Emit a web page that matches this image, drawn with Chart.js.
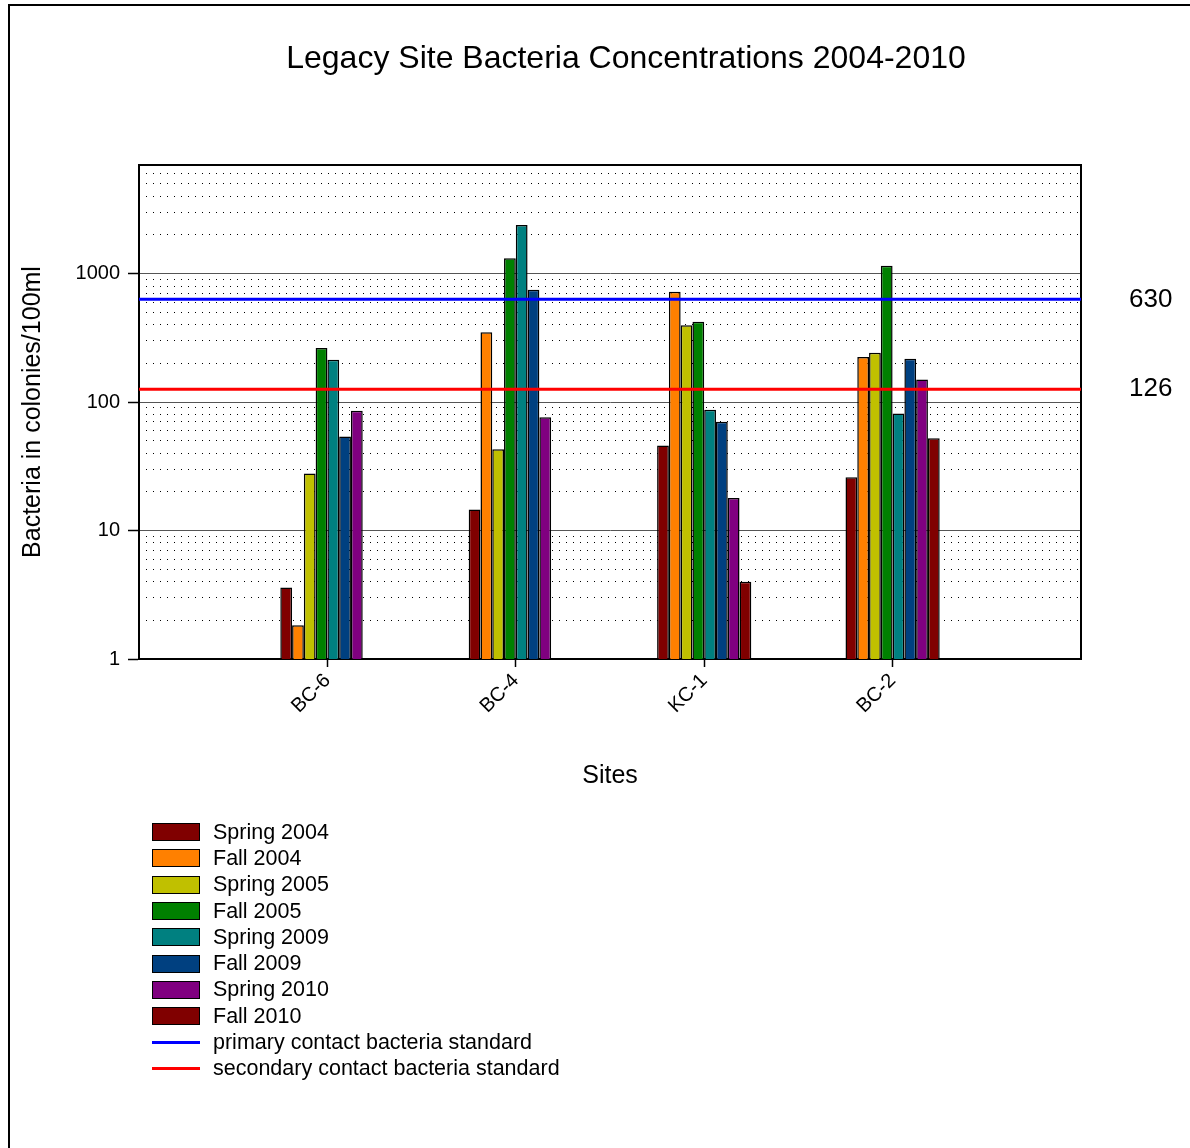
<!DOCTYPE html>
<html>
<head>
<meta charset="utf-8">
<script src="https://cdn.jsdelivr.net/npm/chart.js@4/dist/chart.umd.min.js"></script>
<style>
html,body{margin:0;padding:0;background:#fff;}
#wrap{position:relative;width:1190px;height:1148px;overflow:hidden;background:#fff;}
#frame{position:absolute;left:8px;top:4px;width:1300px;height:1300px;border:2px solid #000;box-sizing:border-box;}
#c{position:absolute;left:0;top:0;}
#title{position:absolute;left:0;width:1252px;top:36px;text-align:center;font-family:"Liberation Sans",Arial,sans-serif;font-size:32px;line-height:42px;color:#000;white-space:nowrap;}
#legend{position:absolute;left:152px;top:819px;font-family:"Liberation Sans",Arial,sans-serif;font-size:21.5px;color:#000;}
.li{display:flex;align-items:center;height:26.3px;white-space:nowrap;}
.sw{width:48px;height:18px;box-sizing:border-box;border:1px solid #000;margin-right:13px;flex:none;}
.ln{width:48px;height:3px;margin-right:13px;flex:none;}
</style>
</head>
<body>
<div id="wrap">
  <div id="frame"></div>
  <canvas id="c" width="1190" height="1148"></canvas>
  <div id="title">Legacy Site Bacteria Concentrations 2004-2010</div>
  <div id="legend"></div>
</div>
<script>
// ---- data ----
const sites = ['BC-6', 'BC-4', 'KC-1', 'BC-2'];
const seasonLabels = ['Spring 2004', 'Fall 2004', 'Spring 2005', 'Fall 2005', 'Spring 2009', 'Fall 2009', 'Spring 2010', 'Fall 2010'];
const spring2004 = [3.6, 14.6, 45.8, 26];
const fall2004 = [1.83, 350, 721, 224];
const spring2005 = [27.8, 42.9, 396, 242];
const fall2005 = [264, 1315, 421, 1148];
const spring2009 = [213, 2390, 87.3, 81.6];
const fall2009 = [54, 747, 70.4, 217];
const spring2010 = [85.7, 76, 17.9, 150];
const fall2010 = [null, null, 4, 52.2];
const primaryStandard = 630;
const secondaryStandard = 126;
const lineLabels = ['primary contact bacteria standard', 'secondary contact bacteria standard'];
const majorTicks = [1, 10, 100, 1000];
const minorTicks = [2, 3, 4, 5, 6, 7, 8, 9, 20, 30, 40, 50, 60, 70, 80, 90, 200, 300, 400, 500, 600, 700, 800, 900, 2000, 3000, 4000, 5000, 6000];
const standardTicks = [secondaryStandard, primaryStandard];
const yMin = 1, yMax = 7000;

// ---- styles ----
const seriesColors = ['#800000', '#FF8000', '#C0C000', '#008000', '#008080', '#004080', '#800080', '#800000'];
const lineColors = ['#0000FF', '#FF0000'];
const FONT = '"Liberation Sans", Arial, sans-serif';

const seriesValues = [spring2004, fall2004, spring2005, fall2005, spring2009, fall2009, spring2010, fall2010];
// empty category slot at each end so the sites sit where they do in the original
const categoryLabels = ['', ...sites, ''];
const pad = arr => [null, ...arr, null];

const barSets = seriesValues.map((vals, i) => ({
  type: 'bar',
  label: seasonLabels[i],
  data: pad(vals),
  backgroundColor: seriesColors[i],
  borderColor: '#000',
  borderWidth: 1.5,
  categoryPercentage: 0.5,
  barPercentage: 1.0,
  xAxisID: 'x',
  yAxisID: 'y'
}));
// standard lines span the whole axis (first to last category edge)
const lineSets = [primaryStandard, secondaryStandard].map((v, i) => ({
  type: 'line',
  label: lineLabels[i],
  data: categoryLabels.map(() => v),
  borderColor: lineColors[i],
  backgroundColor: lineColors[i],
  borderWidth: 3,
  pointRadius: 0,
  pointHoverRadius: 0,
  fill: false,
  xAxisID: 'x',
  yAxisID: 'y',
  order: -1
}));

const chart = new Chart(document.getElementById('c'), {
  type: 'bar',
  data: { labels: categoryLabels, datasets: [...barSets, ...lineSets] },
  options: {
    responsive: false,
    animation: false,
    devicePixelRatio: 1,
    layout: { padding: { left: 10, right: 0, top: 165, bottom: 349 } },
    plugins: { legend: { display: false }, title: { display: false }, tooltip: { enabled: false } },
    scales: {
      x: {
        type: 'category',
        position: 'bottom',
        offset: false,
        grid: {
          display: true, offset: false, drawOnChartArea: false, drawTicks: true, tickLength: 8,
          tickWidth: 1.5,
          tickColor: ctx => (ctx.index === 0 || ctx.index === categoryLabels.length - 1) ? 'rgba(0,0,0,0)' : '#000'
        },
        border: { display: true, color: '#000', width: 2 },
        ticks: { autoSkip: false, maxRotation: 45, minRotation: 45, font: { family: FONT, size: 20 }, color: '#000', padding: 2 },
        title: { display: true, text: 'Sites', font: { family: FONT, size: 25 }, color: '#000', padding: { top: 0, bottom: 8 } },
        afterFit: s => { s.height = 140; }
      },
      xTop: {
        type: 'linear',
        position: 'top',
        min: 0, max: 1,
        offset: false,
        grid: { display: true, drawOnChartArea: false, drawTicks: false },
        border: { display: true, color: '#000', width: 2 },
        ticks: { display: false },
        afterFit: s => { s.height = 0; }
      },
      y: {
        type: 'logarithmic',
        position: 'left',
        min: yMin, max: yMax,
        afterBuildTicks: s => { s.ticks = majorTicks.map(v => ({ value: v, major: true })); },
        grid: { display: true, drawOnChartArea: true, color: '#555', lineWidth: 1, drawTicks: true, tickLength: 11, tickColor: '#000', tickWidth: 1.5 },
        border: { display: true, color: '#000', width: 2 },
        ticks: { callback: v => String(v), font: { family: FONT, size: 20 }, color: '#000', padding: 8 },
        title: { display: true, text: 'Bacteria in colonies/100ml', font: { family: FONT, size: 25 }, color: '#000', padding: { top: 8, bottom: 0 } },
        afterFit: s => { s.width = 129; }
      },
      yMinor: {
        type: 'logarithmic',
        position: 'left',
        min: yMin, max: yMax,
        afterBuildTicks: s => { s.ticks = minorTicks.map(v => ({ value: v })); },
        grid: { display: true, drawOnChartArea: true, color: '#000', lineWidth: 1, drawTicks: false, borderDash: [1, 6] },
        border: { display: false, dash: [1, 6] },
        ticks: { display: false },
        afterFit: s => { s.width = 0; }
      },
      yRight: {
        type: 'logarithmic',
        position: 'right',
        min: yMin, max: yMax,
        afterBuildTicks: s => { s.ticks = standardTicks.map(v => ({ value: v })); },
        grid: { display: true, drawOnChartArea: false, drawTicks: false },
        border: { display: true, color: '#000', width: 2 },
        ticks: { callback: v => String(v), font: { family: FONT, size: 26 }, color: '#000', padding: 48 },
        afterFit: s => { s.width = 109; }
      }
    }
  }
});

// HTML legend built from the chart's datasets
const legendEl = document.getElementById('legend');
chart.data.datasets.forEach(ds => {
  const row = document.createElement('div');
  row.className = 'li';
  const sw = document.createElement('div');
  if (ds.type === 'line') {
    sw.className = 'ln';
    sw.style.background = ds.borderColor;
  } else {
    sw.className = 'sw';
    sw.style.background = ds.backgroundColor;
  }
  const tx = document.createElement('span');
  tx.textContent = ds.label;
  row.appendChild(sw);
  row.appendChild(tx);
  legendEl.appendChild(row);
});
</script>
</body>
</html>
